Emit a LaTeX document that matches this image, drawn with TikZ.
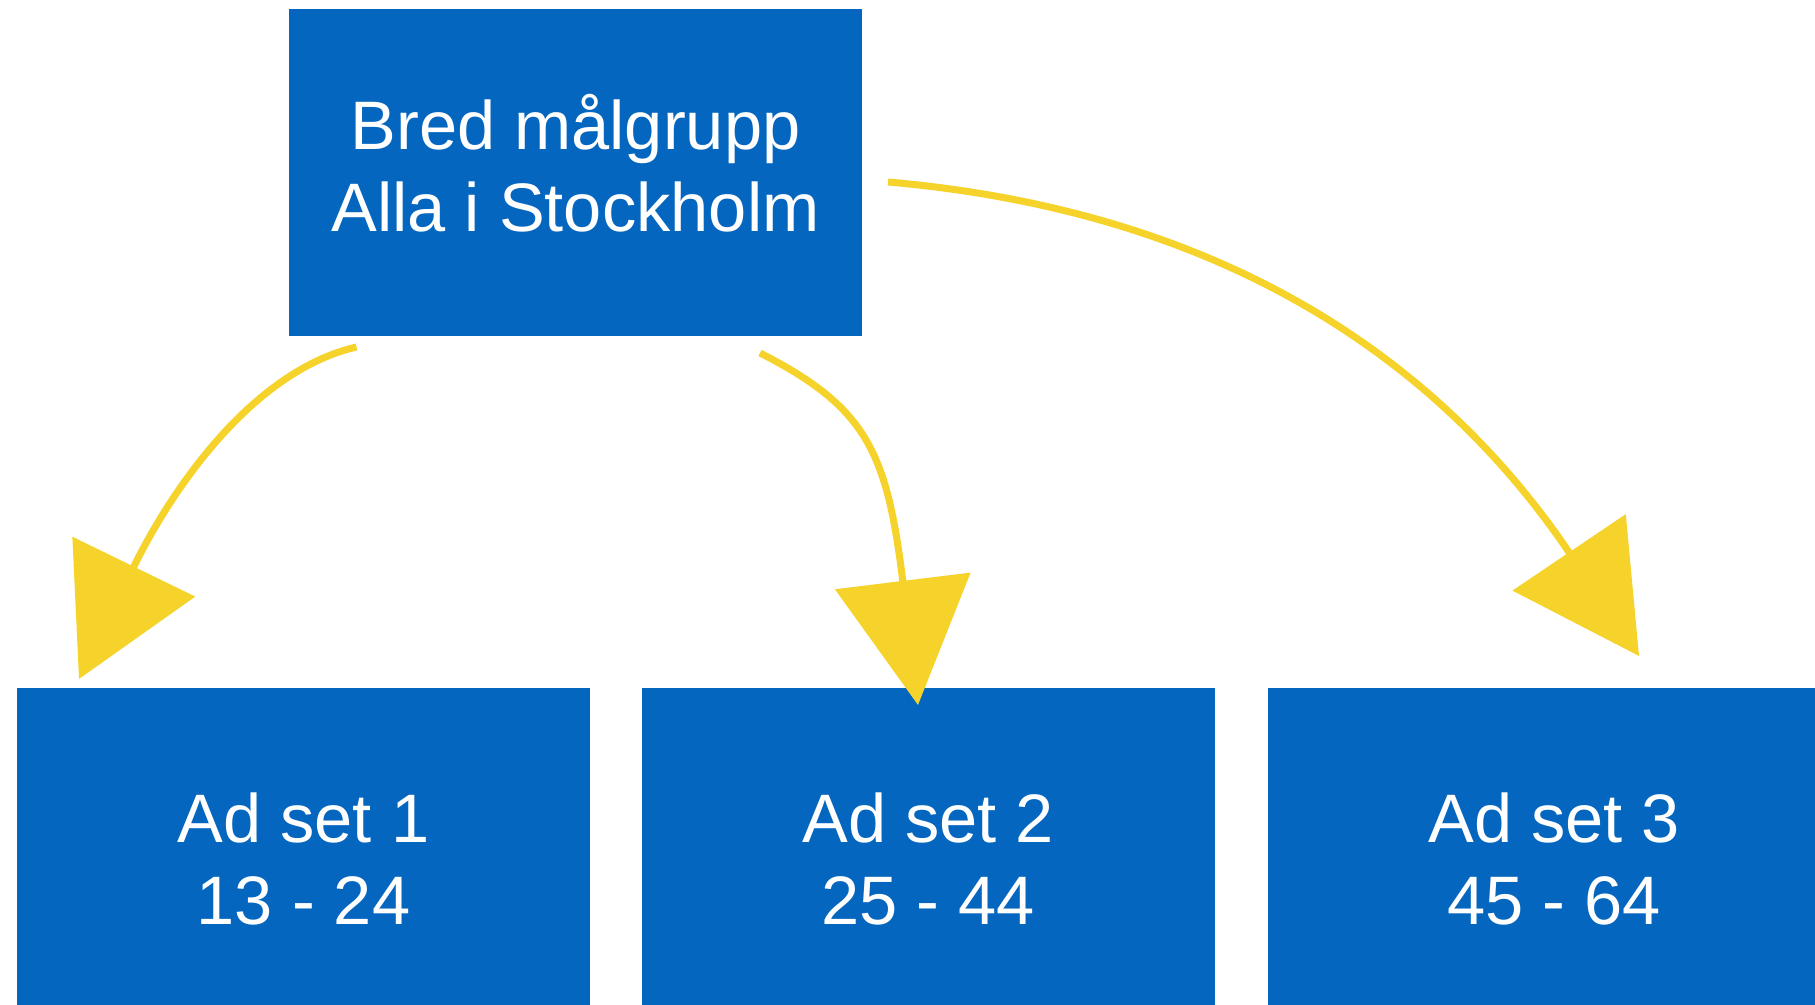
\documentclass[tikz,border=0pt]{standalone}
\usepackage{fontspec}
\setmainfont{Liberation Sans}
\usetikzlibrary{positioning,arrows.meta}

\definecolor{adblue}{RGB}{5,102,192}
\definecolor{adyellow}{RGB}{245,211,42}

\tikzset{
  box/.style={fill=adblue, text=white, inner sep=0pt, align=center,
    minimum width=286.5pt, font=\fontsize{34.3}{41}\selectfont},
  link/.style={draw=adyellow, line width=3.5pt,
    -{Triangle[length=62.5pt, width=67.5pt]}}
}

\begin{document}
\begin{tikzpicture}[x=0.5pt, y=0.5pt]
\useasboundingbox (0,0) rectangle (1815,1005);
\clip (0,0) rectangle (1815,1005);

% Nodes %
\node[box, minimum height=163.5pt, text depth=9.4pt] (broad) at (575.5,832.5) {Bred målgrupp\\Alla i Stockholm};
\node[box, minimum height=178pt, text depth=7pt] (set1) at (303.5,139) {Ad set 1\\13 - 24};
\node[box, minimum height=178pt, text depth=7pt, right=25.5pt of set1] (set2) {Ad set 2\\25 - 44};
\node[box, minimum height=178pt, text depth=7pt, right=26pt of set2] (set3) {Ad set 3\\45 - 64};

% Arrow ends %
\coordinate (s1) at (356.5,658);
\coordinate (t1) at (79,326);
\coordinate (s2) at (760,652);
\coordinate (t2) at (918,300);
\coordinate (s3) at (888,823);
\coordinate (t3) at (1639,349);

% Edges %
\draw[link] (s1) to [out=193, in=64, out distance=52.5pt, in distance=107.5pt] (t1);
\draw[link] (s2) to [out=-27, in=97, out distance=60pt, in distance=127.5pt] (t2);
\draw[link] (s3) to [out=-5, in=124, out distance=173.5pt, in distance=173.5pt] (t3);

\end{tikzpicture}
\end{document}
